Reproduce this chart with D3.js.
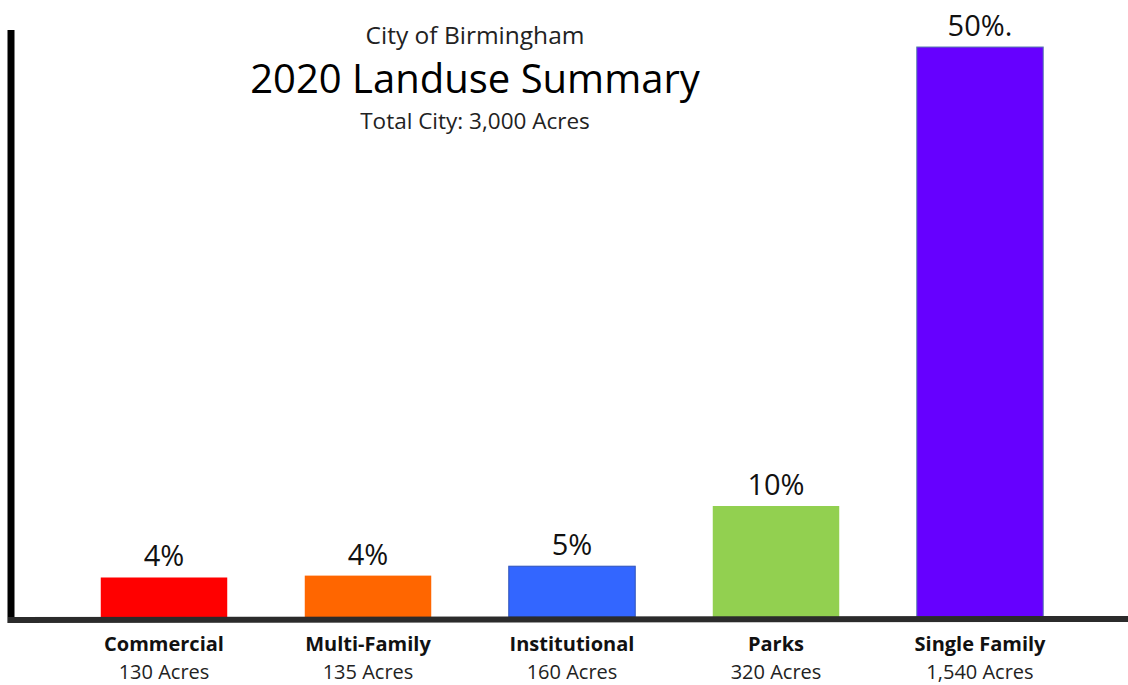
<!DOCTYPE html>
<html>
<head>
  <meta charset="UTF-8">
  <title>2020 Landuse Summary</title>
  <script src="https://cdnjs.cloudflare.com/ajax/libs/d3/7.8.5/d3.min.js"></script>
  <style>
    body { margin: 0; background: #fff; }
    svg { display: block; font-family: "Open Sans", sans-serif; }
  </style>
</head>
<body>
<script>
  var categories = ["Commercial", "Multi-Family", "Institutional", "Parks", "Single Family"];
  var acres = [130, 135, 160, 320, 1540];
  var acreLabels = ["130 Acres", "135 Acres", "160 Acres", "320 Acres", "1,540 Acres"];
  var pctLabels = ["4%", "4%", "5%", "10%", "50%."];
  var colors = ["#ff0000", "#ff6600", "#3366ff", "#92d050", "#6600ff"];
  var outlines = ["none", "none", "#2f52b8", "none", "#5b7fae"];

  var width = 1128, height = 685;
  var base = 617;

  var svg = d3.select("body").append("svg")
    .attr("width", width)
    .attr("height", height);

  var x = d3.scaleBand()
    .domain(categories)
    .range([62, 1082])
    .paddingInner(0.38)
    .paddingOuter(0.19);

  // the drawing does not start at zero, bars of small values stay short
  var y = d3.scaleLinear()
    .domain([25, 1540])
    .range([base, 47]);

  var data = categories.map(function(c, i) {
    return { cat: c, acres: acres[i], label: acreLabels[i], pct: pctLabels[i], color: colors[i], outline: outlines[i] };
  });

  // titles
  svg.append("text").attr("x", 475).attr("y", 44)
    .attr("text-anchor", "middle").attr("font-size", 24.5).attr("fill", "#222")
    .text("City of Birmingham");
  svg.append("text").attr("x", 475).attr("y", 93)
    .attr("text-anchor", "middle").attr("font-size", 40).attr("fill", "#000")
    .text("2020 Landuse Summary");
  svg.append("text").attr("x", 475).attr("y", 129)
    .attr("text-anchor", "middle").attr("font-size", 22.5).attr("fill", "#222")
    .text("Total City: 3,000 Acres");

  // bars
  svg.selectAll("rect.bar").data(data).enter().append("rect")
    .attr("class", "bar")
    .attr("x", function(d) { return x(d.cat); })
    .attr("width", x.bandwidth())
    .attr("y", function(d) { return y(d.acres); })
    .attr("height", function(d) { return base - y(d.acres); })
    .attr("fill", function(d) { return d.color; })
    .attr("stroke", function(d) { return d.outline; })
    .attr("stroke-width", 1);

  svg.selectAll("text.pct").data(data).enter().append("text")
    .attr("class", "pct")
    .attr("x", function(d) { return x(d.cat) + x.bandwidth() / 2; })
    .attr("y", function(d) { return y(d.acres) - 11; })
    .attr("text-anchor", "middle")
    .attr("font-size", 29)
    .attr("fill", "#111")
    .text(function(d) { return d.pct; });

  // axes lines
  svg.append("line")
    .attr("x1", 11).attr("x2", 11).attr("y1", 30).attr("y2", 623)
    .attr("stroke", "#000").attr("stroke-width", 7);
  svg.append("line")
    .attr("x1", 8).attr("x2", width).attr("y1", 620).attr("y2", 619)
    .attr("stroke", "#2b2b2b").attr("stroke-width", 6);

  // category labels
  svg.selectAll("text.cat").data(data).enter().append("text")
    .attr("class", "cat")
    .attr("x", function(d) { return x(d.cat) + x.bandwidth() / 2; })
    .attr("y", 651)
    .attr("text-anchor", "middle")
    .attr("font-size", 20)
    .attr("font-weight", "bold")
    .attr("fill", "#111")
    .text(function(d) { return d.cat; });

  svg.selectAll("text.acres").data(data).enter().append("text")
    .attr("class", "acres")
    .attr("x", function(d) { return x(d.cat) + x.bandwidth() / 2; })
    .attr("y", 679)
    .attr("text-anchor", "middle")
    .attr("font-size", 20)
    .attr("fill", "#222")
    .text(function(d) { return d.label; });
</script>
</body>
</html>
